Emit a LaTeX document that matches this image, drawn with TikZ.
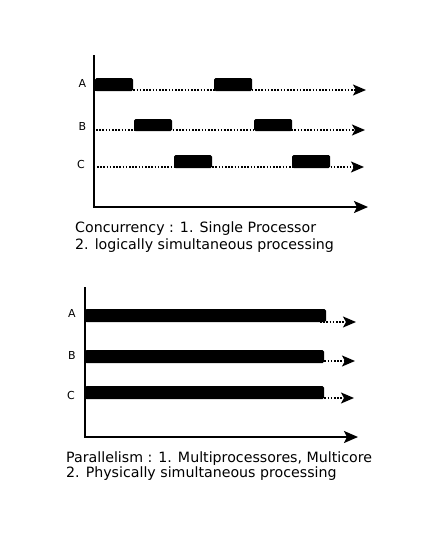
\documentclass[tikz,border=0pt]{standalone}
\usepackage{fontspec}
\setmainfont{DejaVu Sans}
\usetikzlibrary{arrows.meta}
\begin{document}
\begin{tikzpicture}[x=1pt,y=-1pt,
  axis/.style={line width=2pt,-{Stealth[length=14pt,width=12pt,inset=3pt]}},
  track/.style={line width=1.6pt,dash pattern=on 1.6pt off 1.6pt,-{Stealth[length=13pt,width=11pt,inset=3pt]}},
  job/.style={fill=black,rounded corners=1.5pt},
  lbl/.style={font=\fontsize{11}{13}\selectfont,inner sep=0pt},
  caption/.style={font=\fontsize{14.2}{17}\selectfont,inner sep=0pt,anchor=base west}]
\useasboundingbox (0,0) rectangle (434,557);
% concurrency
\draw [axis] (94,55) -- (94,207) -- (368,207);
\node [lbl] (ca) at (82.5,83) {A};
\node [lbl] (cb) at (82.5,126) {B};
\node [lbl] (cc) at (81,164) {C};
\draw [track] (95,90) -- (366,90);
\draw [track] (96,130) -- (365,130);
\draw [track] (97,167) -- (364,167);
\fill [job] (95,78) rectangle (133,91);
\fill [job] (214,78) rectangle (252,91);
\fill [job] (134,119) rectangle (172,131);
\fill [job] (254,119) rectangle (292,131);
\fill [job] (174,155) rectangle (212,168);
\fill [job] (292,155) rectangle (330,168);
\node [caption] (ct1) at (75,232) {Concurrency : 1. Single Processor};
\node [caption] (ct2) at (75,249) {2. logically simultaneous processing};
% parallelism
\draw [axis] (85,287) -- (85,437) -- (358,437);
\node [lbl] (pa) at (72,313) {A};
\node [lbl] (pb) at (72,355) {B};
\node [lbl] (pc) at (71,395) {C};
\draw [track] (320,322) -- (356,322);
\draw [track] (318,361) -- (355,361);
\draw [track] (318,398) -- (354,398);
\fill [job] (85,309) rectangle (326,322);
\fill [job] (85,350) rectangle (324,363);
\fill [job] (85,386) rectangle (324,399);
\node [caption] (pt1) at (66,462) {Parallelism : 1. Multiprocessores, Multicore};
\node [caption] (pt2) at (66,477) {2. Physically simultaneous processing};
\end{tikzpicture}
\end{document}
